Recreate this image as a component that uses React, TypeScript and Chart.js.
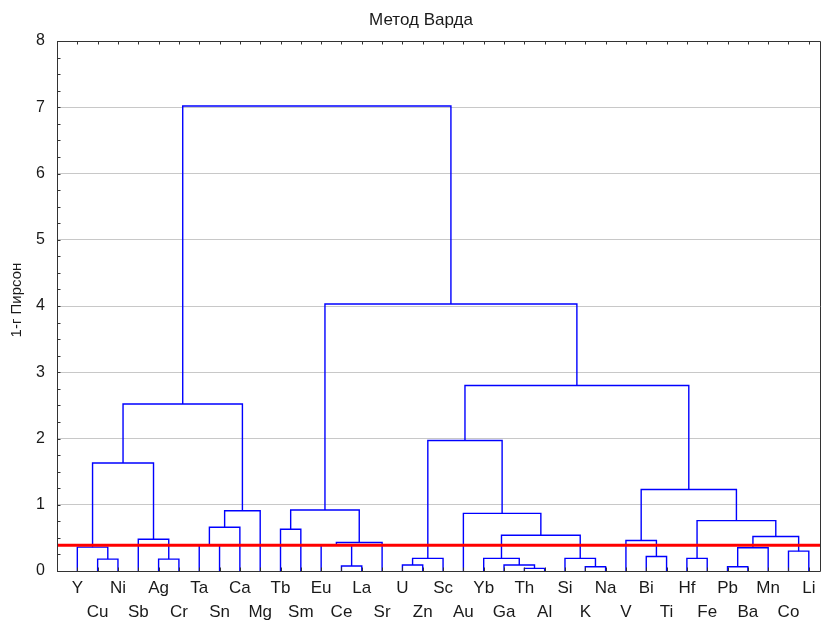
import React, { useEffect, useRef } from 'react';
import { Chart, registerables } from 'chart.js';

Chart.register(...registerables);

// ---- DATA ----
const chartTitle = 'Метод Варда';
const yAxisTitle = '1-г Пирсон';
const leafLabels = ['Y', 'Cu', 'Ni', 'Sb', 'Ag', 'Cr', 'Ta', 'Sn', 'Ca', 'Mg', 'Tb', 'Sm', 'Eu', 'Ce', 'La', 'Sr', 'U', 'Zn', 'Sc', 'Au', 'Yb', 'Ga', 'Th', 'Al', 'Si', 'K', 'Na', 'V', 'Bi', 'Ti', 'Hf', 'Fe', 'Pb', 'Ba', 'Mn', 'Co', 'Li'];
// linkage: node ids 0..36 are leaves, merge k creates node 37+k
const mergeLeft = [1, 0, 4, 3, 38, 6, 42, 43, 41, 10, 13, 12, 48, 46, 16, 51, 22, 21, 20, 25, 24, 55, 19, 52, 28, 27, 30, 32, 64, 35, 65, 63, 62, 60, 50, 45];
const mergeRight = [2, 37, 5, 39, 40, 7, 8, 9, 44, 11, 14, 47, 15, 49, 17, 18, 23, 53, 54, 26, 56, 57, 58, 59, 29, 61, 31, 33, 34, 36, 66, 67, 68, 69, 70, 71];
const mergeHeight = [0.18, 0.36, 0.18, 0.48, 1.63, 0.39, 0.66, 0.91, 2.52, 0.63, 0.075, 0.39, 0.43, 0.92, 0.09, 0.19, 0.04, 0.09, 0.19, 0.065, 0.19, 0.54, 0.87, 1.97, 0.22, 0.46, 0.19, 0.065, 0.35, 0.30, 0.52, 0.76, 1.23, 2.80, 4.03, 7.02];
const cutHeight = 0.39;
const yMin = 0;
const yMax = 8;

const FONT = '"Liberation Sans", Arial, sans-serif';

function buildDatasets() {
  const nodeX: number[] = leafLabels.map((_, i) => i);
  const nodeH: number[] = leafLabels.map(() => 0);
  const sets: any[] = [];
  for (let k = 0; k < mergeLeft.length; k++) {
    const a = mergeLeft[k];
    const b = mergeRight[k];
    const h = mergeHeight[k];
    sets.push({
      type: 'line',
      data: [
        { x: nodeX[a], y: nodeH[a] },
        { x: nodeX[a], y: h },
        { x: nodeX[b], y: h },
        { x: nodeX[b], y: nodeH[b] },
      ],
      borderColor: '#0000ff',
      borderWidth: 1.4,
      pointRadius: 0,
      fill: false,
      tension: 0,
    });
    nodeX.push((nodeX[a] + nodeX[b]) / 2);
    nodeH.push(h);
  }
  return sets;
}

const framePlugin = {
  id: 'framePlugin',
  afterDraw(chart: any) {
    const { ctx, chartArea } = chart;
    const { left, right, top, bottom } = chartArea;
    const ys = chart.scales.y;
    const xs = chart.scales.x;
    ctx.save();
    ctx.strokeStyle = '#333';
    ctx.lineWidth = 1;
    ctx.beginPath();
    ctx.moveTo(left + 0.5, top + 0.5);
    ctx.lineTo(right - 0.5, top + 0.5);
    ctx.lineTo(right - 0.5, bottom + 0.5);
    ctx.lineTo(left + 0.5, bottom + 0.5);
    ctx.closePath();
    ctx.stroke();
    // y minor/major ticks, inward
    ctx.beginPath();
    for (let v = yMin; v <= yMax + 1e-9; v += 0.25) {
      const py = Math.round(ys.getPixelForValue(v)) + 0.5;
      ctx.moveTo(left, py);
      ctx.lineTo(left + 3.5, py);
    }
    // x ticks at leaves, top and bottom, inward
    leafLabels.forEach((_, i) => {
      const px = Math.round(xs.getPixelForValue(i)) + 0.5;
      ctx.moveTo(px, top);
      ctx.lineTo(px, top + 3.5);
      ctx.moveTo(px, bottom);
      ctx.lineTo(px, bottom - 3.5);
    });
    ctx.stroke();
    // titles
    ctx.fillStyle = '#1a1a1a';
    ctx.font = `17px ${FONT}`;
    ctx.textAlign = 'center';
    ctx.textBaseline = 'alphabetic';
    ctx.fillText(chartTitle, 421, 25);
    ctx.translate(17, 300);
    ctx.rotate(-Math.PI / 2);
    ctx.font = `15px ${FONT}`;
    ctx.textBaseline = 'middle';
    ctx.fillText(yAxisTitle, 0, 0);
    ctx.restore();
  },
};

export default function App() {
  const ref = useRef<HTMLCanvasElement>(null);
  useEffect(() => {
    if (!ref.current) return;
    const cutLine = {
      type: 'line',
      data: [
        { x: -1, y: cutHeight },
        { x: 36.6, y: cutHeight },
      ],
      borderColor: '#ff0000',
      borderWidth: 3,
      pointRadius: 0,
      fill: false,
    };
    const chart = new Chart(ref.current, {
      type: 'line',
      data: { datasets: [cutLine, ...buildDatasets()] as any },
      options: {
        responsive: false,
        animation: false,
        devicePixelRatio: 1,
        layout: { padding: { top: 41, right: 1, left: 0, bottom: 0 } },
        plugins: { legend: { display: false }, tooltip: { enabled: false }, title: { display: false } },
        scales: {
          x: {
            type: 'linear',
            min: -1,
            max: 36.6,
            border: { display: false },
            grid: { display: false, drawTicks: false },
            afterBuildTicks: (s: any) => {
              s.ticks = leafLabels.map((_, i) => ({ value: i }));
            },
            afterFit: (s: any) => {
              s.height = 50;
            },
            ticks: {
              autoSkip: false,
              maxRotation: 0,
              padding: 6,
              color: '#1a1a1a',
              font: { family: FONT, size: 17, lineHeight: 1.37 },
              callback: (v: any) => {
                const i = Math.round(Number(v));
                const l = leafLabels[i];
                return i % 2 === 0 ? l : ['', l];
              },
            },
          },
          y: {
            type: 'linear',
            min: yMin,
            max: yMax,
            border: { display: false },
            grid: {
              drawTicks: false,
              color: (c: any) => {
                const v = c.tick ? c.tick.value : 0;
                return Number.isInteger(v) && v > yMin && v < yMax ? '#c8c8c8' : 'rgba(0,0,0,0)';
              },
            },
            afterFit: (s: any) => {
              s.width = 57;
            },
            ticks: {
              stepSize: 0.25,
              autoSkip: false,
              padding: 12,
              color: '#1a1a1a',
              font: { family: FONT, size: 16 },
              callback: (v: any) => (Number.isInteger(Number(v)) ? String(v) : ''),
            },
          },
        },
      },
      plugins: [framePlugin],
    } as any);
    return () => chart.destroy();
  }, []);
  return (
    <div style={{ position: 'fixed', left: 0, top: 0, width: 822, height: 621, background: '#fff' }}>
      <canvas ref={ref} width={822} height={621} />
    </div>
  );
}
